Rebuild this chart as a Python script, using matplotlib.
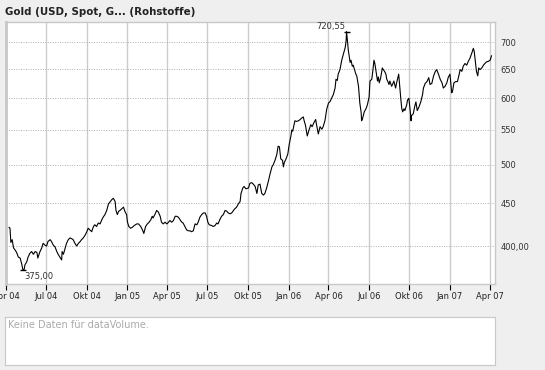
import matplotlib
matplotlib.use('Agg')
import matplotlib.pyplot as plt
import matplotlib.ticker as mticker
import numpy as np

title = "Gold (USD, Spot, G... (Rohstoffe)"
start_date = '2004-04-01'
end_date = '2007-04-13'

days = [7, 9, 11, 14, 17, 20, 24, 28, 32, 36, 38, 41, 43, 47, 50, 54, 58, 62, 66, 70,
        72, 77, 81, 84, 88, 92, 95, 100, 103, 107, 111, 115, 118, 122, 126, 127, 130, 134, 137, 141,
        145, 149, 152, 156, 160, 164, 168, 171, 175, 179, 183, 186, 190, 194, 198, 201, 205, 209, 213, 217,
        220, 224, 228, 232, 235, 239, 243, 247, 249, 252, 255, 258, 262, 266, 269, 273, 275, 278, 282, 286,
        290, 296, 300, 305, 309, 312, 316, 320, 324, 328, 331, 333, 337, 341, 345, 349, 352, 356, 360, 364,
        368, 371, 375, 379, 383, 386, 390, 394, 398, 401, 405, 409, 413, 417, 420, 424, 428, 432, 435, 439,
        443, 447, 451, 454, 457, 460, 466, 469, 473, 477, 480, 484, 488, 492, 496, 500, 503, 507, 511, 515,
        518, 522, 526, 530, 532, 536, 539, 543, 549, 552, 556, 560, 564, 568, 571, 575, 579, 583, 586, 590,
        594, 598, 602, 605, 609, 613, 616, 619, 622, 626, 628, 630, 634, 638, 641, 645, 647, 649, 652, 654,
        658, 662, 666, 669, 673, 675, 678, 682, 686, 690, 693, 697, 701, 703, 707, 711, 715, 718, 722, 726,
        730, 734, 737, 741, 745, 747, 750, 752, 756, 760, 764, 768, 770, 771, 774, 775, 777, 779, 781, 784,
        786, 789, 792, 794, 798, 801, 804, 805, 807, 811, 815, 818, 822, 824, 828, 830, 833, 835, 838, 841,
        843, 845, 848, 852, 854, 857, 860, 862, 864, 867, 869, 873, 875, 878, 882, 884, 887, 889, 892, 894,
        896, 898, 901, 903, 907, 909, 912, 915, 917, 918, 922, 926, 928, 931, 935, 939, 943, 945, 949, 953,
        957, 960, 964, 968, 972, 975, 979, 983, 987, 990, 994, 998, 1001, 1005, 1007, 1009, 1011, 1014, 1018, 1022,
        1026, 1028, 1032, 1035, 1039, 1043, 1046, 1050, 1054, 1058, 1060, 1063, 1065, 1068, 1070, 1073, 1077, 1081, 1084, 1088,
        1092, 1096, 1099]

prices = [421, 420, 404, 407, 398, 396, 393, 388, 387, 380, 375, 375, 380, 383, 388, 392, 394, 391, 394, 393,
          387, 394, 398, 403, 401, 400, 405, 407, 405, 401, 399, 394, 391, 388, 385, 394, 391, 398, 403, 407,
          409, 408, 407, 403, 400, 403, 405, 407, 409, 412, 416, 420, 418, 416, 422, 424, 422, 426, 425, 430,
          433, 436, 441, 449, 451, 454, 456, 452, 441, 436, 440, 441, 443, 445, 440, 436, 427, 422, 420, 421,
          423, 425, 425, 422, 418, 414, 422, 425, 427, 430, 434, 432, 436, 441, 439, 434, 427, 425, 427, 425,
          427, 429, 427, 429, 434, 434, 433, 430, 427, 426, 422, 418, 417, 417, 416, 417, 425, 424, 427, 433,
          436, 438, 438, 434, 427, 424, 423, 422, 423, 426, 425, 430, 434, 436, 441, 440, 438, 437, 438, 441,
          443, 445, 449, 452, 462, 469, 471, 468, 469, 475, 476, 474, 471, 462, 473, 474, 462, 460, 462, 469,
          478, 488, 497, 500, 506, 514, 526, 525, 508, 506, 497, 503, 508, 515, 528, 541, 550, 548, 558, 564,
          563, 564, 566, 568, 570, 564, 557, 541, 550, 558, 555, 561, 566, 558, 544, 555, 551, 555, 564, 582,
          592, 595, 600, 606, 617, 632, 630, 641, 649, 666, 678, 690, 703, 720.55, 694, 684, 673, 662, 666, 655,
          657, 649, 641, 638, 620, 592, 577, 564, 567, 578, 583, 589, 602, 629, 632, 644, 666, 660, 644, 629,
          636, 626, 634, 652, 649, 646, 641, 632, 629, 623, 629, 620, 623, 629, 617, 625, 635, 641, 613, 597,
          583, 578, 583, 580, 589, 597, 600, 580, 564, 572, 575, 589, 594, 580, 586, 594, 606, 617, 625, 628,
          635, 623, 625, 638, 646, 649, 641, 632, 626, 617, 620, 626, 635, 641, 625, 609, 612, 626, 628, 628,
          641, 649, 646, 655, 660, 657, 663, 669, 678, 688, 682, 661, 646, 638, 652, 649, 652, 657, 660, 663,
          664, 666, 674]

tick_dates = ['2004-04-01', '2004-07-01', '2004-10-01', '2005-01-01', '2005-04-01', '2005-07-01',
              '2005-10-01', '2006-01-01', '2006-04-01', '2006-07-01', '2006-10-01', '2007-01-01', '2007-04-01']
tick_labels = ['Apr 04', 'Jul 04', 'Okt 04', 'Jan 05', 'Apr 05', 'Jul 05', 'Okt 05',
               'Jan 06', 'Apr 06', 'Jul 06', 'Okt 06', 'Jan 07', 'Apr 07']
y_ticks = [400, 450, 500, 550, 600, 650, 700]
y_labels = ['400,00', '450', '500', '550', '600', '650', '700']
no_volume_text = 'Keine Daten für dataVolume.'

dates = np.datetime64(start_date) + np.array(days).astype('timedelta64[D]')
prices_arr = np.array(prices)

W, H = 545, 370
fig = plt.figure(figsize=(W / 100, H / 100), dpi=100)
fig.patch.set_facecolor('#efefef')

ax = fig.add_axes([6 / W, 1 - 284 / H, (495 - 6) / W, (284 - 22) / H])
ax.set_facecolor('white')
ax.plot(dates, prices_arr, color='black', lw=0.8, zorder=3)
ax.set_yscale('log')
ax.set_ylim(360.4, 739.6)
ax.set_xlim(np.datetime64(start_date), np.datetime64(end_date))

ax.set_xticks(np.array(tick_dates, dtype='datetime64[D]'))
ax.set_xticklabels(tick_labels)
ax.yaxis.tick_right()
ax.set_yticks(y_ticks)
ax.set_yticklabels(y_labels)
ax.yaxis.set_minor_locator(mticker.NullLocator())
ax.yaxis.set_minor_formatter(mticker.NullFormatter())

ax.grid(axis='y', ls=(0, (1, 1.5)), color='#b0b0b0', lw=0.7)
ax.grid(axis='x', ls='-', color='#cccccc', lw=1.0)
ax.set_axisbelow(True)

for name, sp in ax.spines.items():
    sp.set_color('#c8c8c8')
    sp.set_linewidth(1.0)
ax.spines['left'].set_linewidth(2.0)

ax.tick_params(axis='x', direction='out', length=4, width=0.8, color='black',
               labelsize=6, labelcolor='#222222', pad=2)
ax.tick_params(axis='y', length=0, labelsize=6, labelcolor='#333333', pad=4)

# max / min annotations
imax = int(np.argmax(prices_arr))
imin = int(np.argmin(prices_arr))
fmt = lambda v: f"{v:.2f}".replace('.', ',')
ax.plot([dates[imax]], [prices_arr[imax]], marker='_', ms=5, mew=1.0, color='black', zorder=4)
ax.plot([dates[imin]], [prices_arr[imin]], marker='_', ms=5, mew=1.0, color='black', zorder=4)
ax.annotate(fmt(prices_arr[imax]), xy=(dates[imax], prices_arr[imax]), xytext=(-1, 0.5),
            textcoords='offset points', ha='right', va='bottom', fontsize=6, color='#333333')
ax.annotate(fmt(prices_arr[imin]), xy=(dates[imin], prices_arr[imin]), xytext=(1, -1.5),
            textcoords='offset points', ha='left', va='top', fontsize=6, color='#333333')

fig.text(5 / W, 1 - 12 / H, title, fontweight='bold', fontsize=7.4, va='center', ha='left', color='#222222')

# volume panel
bx = fig.add_axes([5 / W, 1 - 365 / H, 490 / W, 48 / H])
bx.set_facecolor('white')
bx.set_xticks([])
bx.set_yticks([])
for sp in bx.spines.values():
    sp.set_color('#c8c8c8')
bx.text(0.006, 0.83, no_volume_text, transform=bx.transAxes, fontsize=7, color='#aaaaaa',
        va='center', ha='left')

fig.savefig('out.png', dpi=100, facecolor=fig.get_facecolor())
